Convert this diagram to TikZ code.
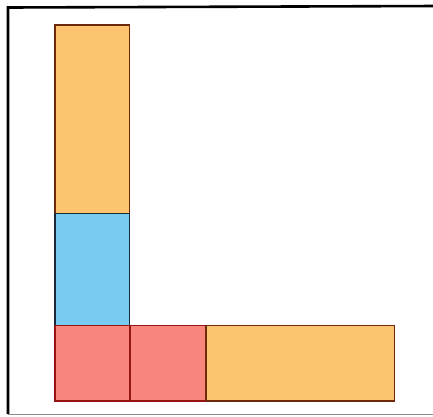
\documentclass[tikz,border=0pt]{standalone}
\definecolor{boxorange}{RGB}{253,196,112}
\definecolor{boxblue}{RGB}{122,203,242}
\definecolor{boxred}{RGB}{249,134,124}
\definecolor{edgebrown}{RGB}{110,40,10}
\definecolor{edgered}{RGB}{150,20,20}
\definecolor{edgeblue}{RGB}{30,40,60}
\tikzset{
  px/.style={x=1pt,y=-1pt},
  tile/.style={draw, line width=1.3pt, inner sep=0pt, outer sep=0pt, anchor=north west},
  orangetile/.style={tile, fill=boxorange, draw=edgebrown},
  bluetile/.style={tile, fill=boxblue, draw=edgeblue},
  redtile/.style={tile, fill=boxred, draw=edgered},
}
\begin{document}
\begin{tikzpicture}[px]
\useasboundingbox (0,0) rectangle (433,416);
\clip (0,0) rectangle (433,416);
\fill[white] (0,0) rectangle (433,416);
\draw[line width=2.6pt, black] (437,6) -- (8,7.5) -- (8,414);
\draw[line width=1pt, black!45] (8,414) -- (433,414);
\node[orangetile, minimum width=74.5pt, minimum height=188.5pt] (top) at (55,25) {};
\node[bluetile, minimum width=74.5pt, minimum height=112pt] (mid) at (55,213.5) {};
\node[redtile, minimum width=75pt, minimum height=75.5pt] (r1) at (55,325.5) {};
\node[redtile, minimum width=76pt, minimum height=75.5pt] (r2) at (130,325.5) {};
\node[orangetile, minimum width=188.5pt, minimum height=75.5pt] (bot) at (206,325.5) {};
\end{tikzpicture}
\end{document}
